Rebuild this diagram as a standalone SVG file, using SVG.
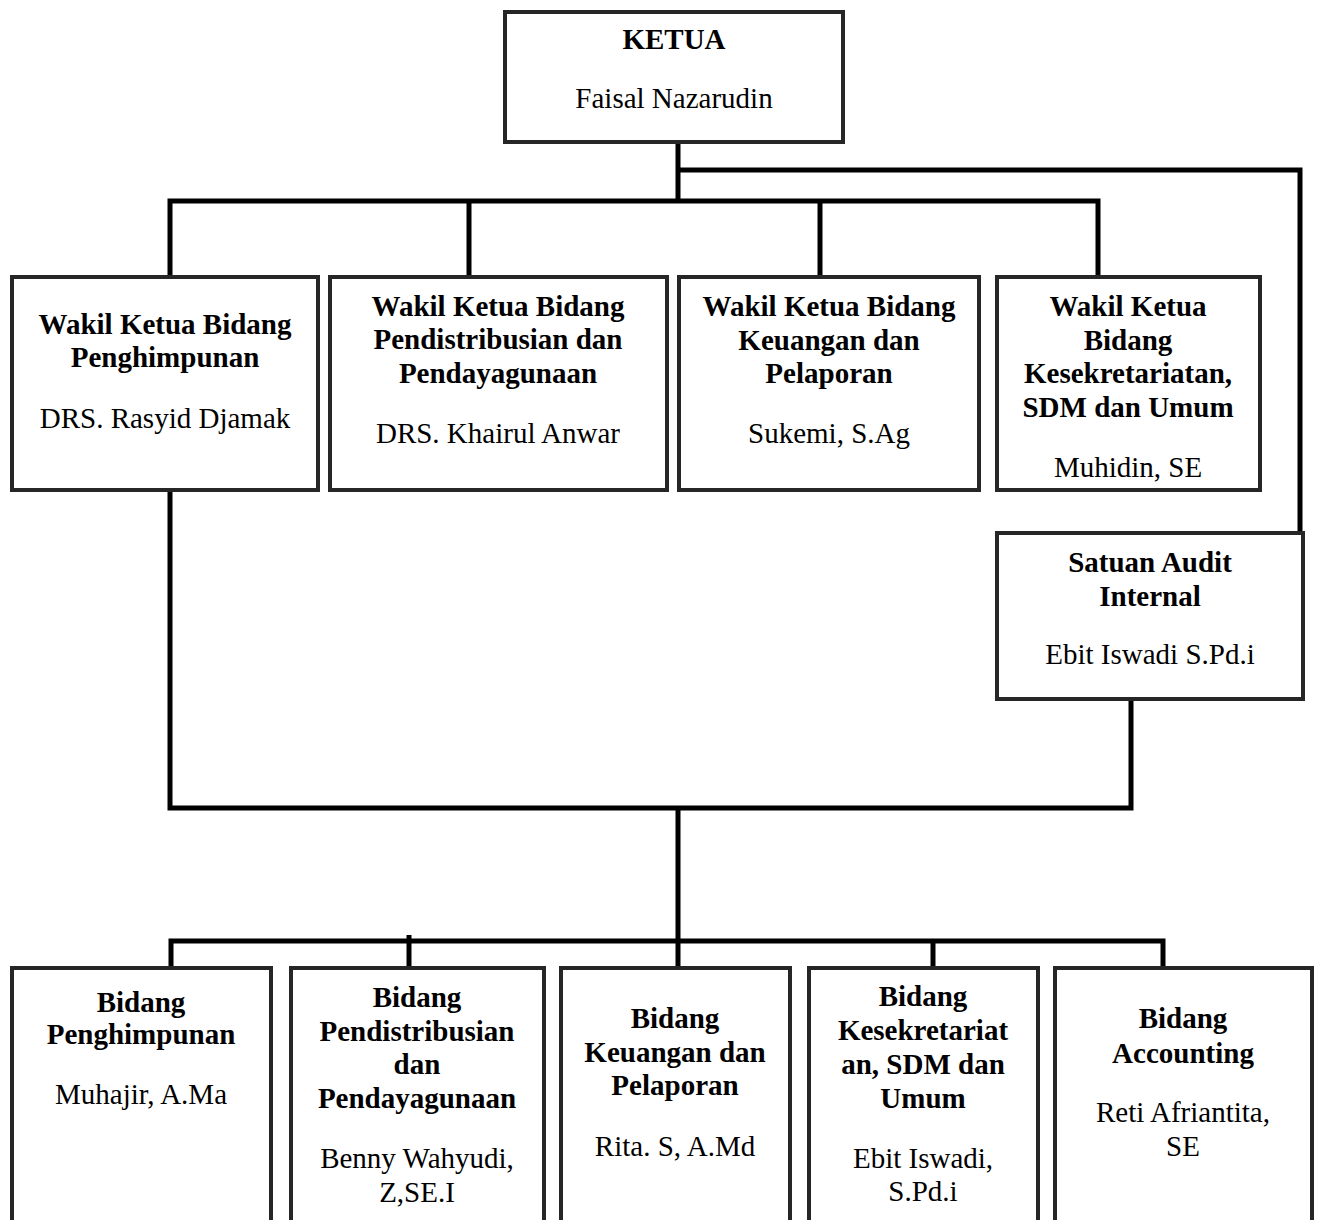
<svg xmlns="http://www.w3.org/2000/svg" width="1317" height="1220" viewBox="0 0 1317 1220">
<style>
.box{fill:#fff;stroke:#262626;stroke-width:4;}
.conn{fill:none;stroke:#000;stroke-width:5;}
text{font-family:"Liberation Serif","Times New Roman",serif;font-size:29px;text-anchor:middle;fill:#000;}
.t{font-weight:bold;}
</style>
<rect width="1317" height="1220" fill="#fff"/>
<g id="connectors">
<path class="conn" d="M678,142 V201"/>
<path class="conn" d="M170,278 V201 H1098 V278"/>
<path class="conn" d="M469,201 V278"/>
<path class="conn" d="M820,201 V278"/>
<path class="conn" d="M678,170 H1300 V533"/>
<path class="conn" d="M170,490 V808 H1131 V699"/>
<path class="conn" d="M678,808 V968"/>
<path class="conn" d="M171,968 V941 H1163 V968"/>
<path class="conn" d="M409,935 V968"/>
<path class="conn" d="M933,941 V968"/>
</g>
<g id="ketua">
<rect class="box" x="505" y="12" width="338" height="130"/>
<text class="t" x="674" y="49">KETUA</text>
<text x="674" y="108">Faisal Nazarudin</text>
</g>
<g id="wk-penghimpunan">
<rect class="box" x="12" y="277" width="306" height="213"/>
<text class="t" x="165" y="334">Wakil Ketua Bidang</text>
<text class="t" x="165" y="367">Penghimpunan</text>
<text x="165" y="428">DRS. Rasyid Djamak</text>
</g>
<g id="wk-pendistribusian">
<rect class="box" x="330" y="277" width="337" height="213"/>
<text class="t" x="498" y="316">Wakil Ketua Bidang</text>
<text class="t" x="498" y="349">Pendistribusian dan</text>
<text class="t" x="498" y="383">Pendayagunaan</text>
<text x="498" y="443">DRS. Khairul Anwar</text>
</g>
<g id="wk-keuangan">
<rect class="box" x="679" y="277" width="300" height="213"/>
<text class="t" x="829" y="316">Wakil Ketua Bidang</text>
<text class="t" x="829" y="350">Keuangan dan</text>
<text class="t" x="829" y="383">Pelaporan</text>
<text x="829" y="443">Sukemi, S.Ag</text>
</g>
<g id="wk-kesekretariatan">
<rect class="box" x="997" y="277" width="263" height="213"/>
<text class="t" x="1128" y="316">Wakil Ketua</text>
<text class="t" x="1128" y="350">Bidang</text>
<text class="t" x="1128" y="383">Kesekretariatan,</text>
<text class="t" x="1128" y="417">SDM dan Umum</text>
<text x="1128" y="477">Muhidin, SE</text>
</g>
<g id="satuan-audit">
<rect class="box" x="997" y="533" width="306" height="166"/>
<text class="t" x="1150" y="572">Satuan Audit</text>
<text class="t" x="1150" y="606">Internal</text>
<text x="1150" y="664">Ebit Iswadi S.Pd.i</text>
</g>
<g id="b-penghimpunan">
<rect class="box" x="12" y="968" width="259" height="280"/>
<text class="t" x="141" y="1012">Bidang</text>
<text class="t" x="141" y="1044">Penghimpunan</text>
<text x="141" y="1104">Muhajir, A.Ma</text>
</g>
<g id="b-pendistribusian">
<rect class="box" x="291" y="968" width="253" height="280"/>
<text class="t" x="417" y="1007">Bidang</text>
<text class="t" x="417" y="1041">Pendistribusian</text>
<text class="t" x="417" y="1074">dan</text>
<text class="t" x="417" y="1108">Pendayagunaan</text>
<text x="417" y="1168">Benny Wahyudi,</text>
<text x="417" y="1202">Z,SE.I</text>
</g>
<g id="b-keuangan">
<rect class="box" x="561" y="968" width="229" height="280"/>
<text class="t" x="675" y="1028">Bidang</text>
<text class="t" x="675" y="1062">Keuangan dan</text>
<text class="t" x="675" y="1095">Pelaporan</text>
<text x="675" y="1156">Rita. S, A.Md</text>
</g>
<g id="b-kesekretariatan">
<rect class="box" x="809" y="968" width="229" height="280"/>
<text class="t" x="923" y="1006">Bidang</text>
<text class="t" x="923" y="1040">Kesekretariat</text>
<text class="t" x="923" y="1074">an, SDM dan</text>
<text class="t" x="923" y="1108">Umum</text>
<text x="923" y="1168">Ebit Iswadi,</text>
<text x="923" y="1201">S.Pd.i</text>
</g>
<g id="b-accounting">
<rect class="box" x="1055" y="968" width="257" height="280"/>
<text class="t" x="1183" y="1028">Bidang</text>
<text class="t" x="1183" y="1063">Accounting</text>
<text x="1183" y="1122">Reti Afriantita,</text>
<text x="1183" y="1156">SE</text>
</g>
</svg>
